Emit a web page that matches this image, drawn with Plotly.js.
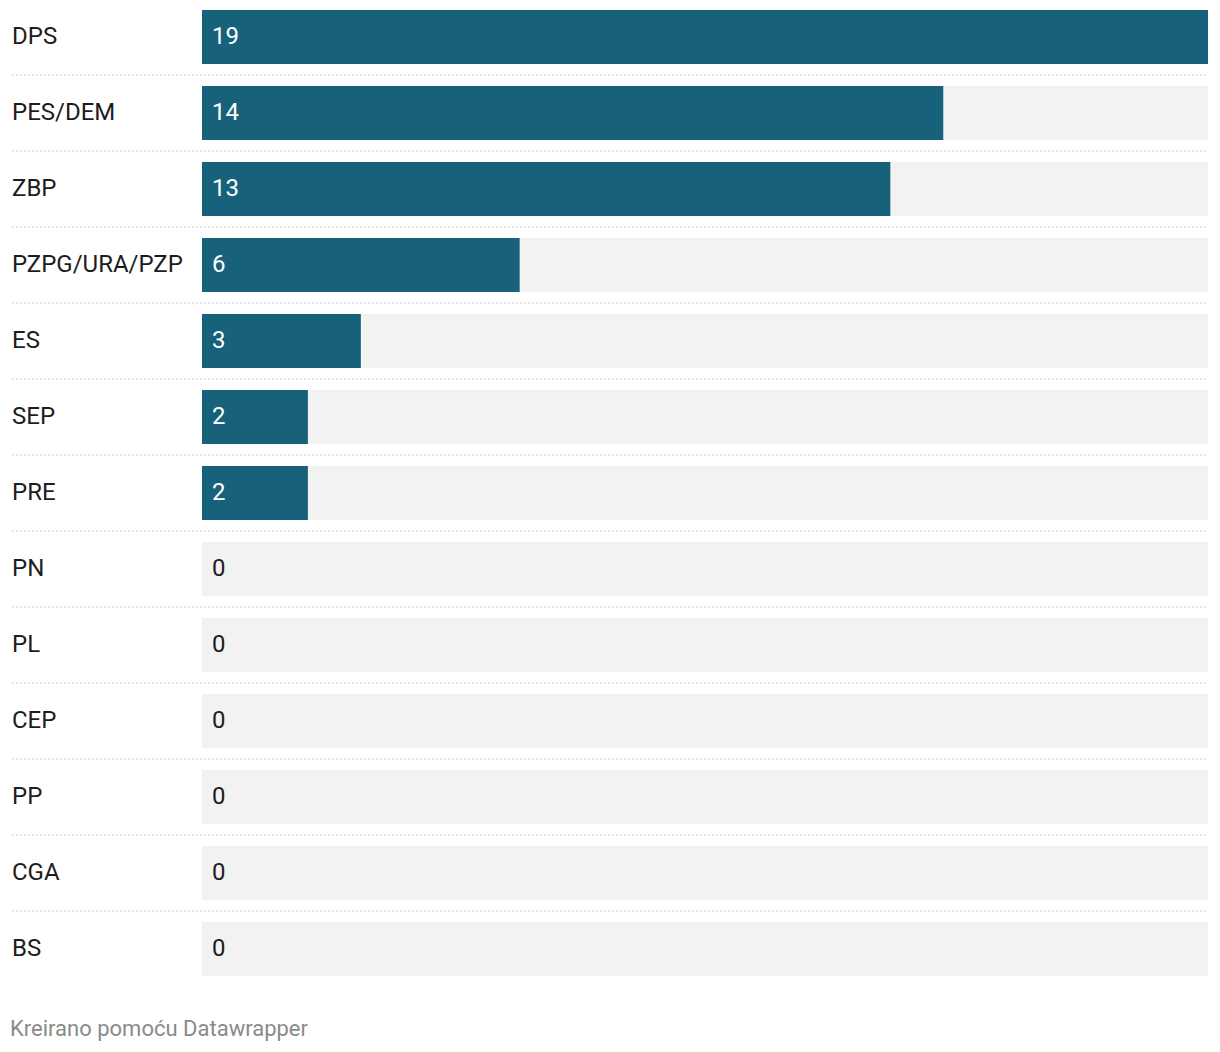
<!DOCTYPE html>
<html>
<head>
<meta charset="utf-8">
<script src="https://cdn.plot.ly/plotly-3.0.1.min.js"></script>
<style>
html,body{margin:0;padding:0;background:#fff;}
#chart{width:1220px;height:1052px;}
</style>
</head>
<body>
<div id="chart"></div>
<script>
const parties = ["DPS","PES/DEM","ZBP","PZPG/URA/PZP","ES","SEP","PRE","PN","PL","CEP","PP","CGA","BS"];
const seats = [19,14,13,6,3,2,2,0,0,0,0,0,0];
const footer = "Kreirano pomoću Datawrapper";

const maxVal = Math.max(...seats);
const W = 1220, H = 1052;
const plotL = 202, plotR = 1208, plotT = 10, plotB = 976;
const n = parties.length;
const half = 27/76;
const font = "Roboto, 'Noto Sans', sans-serif";

const bg = {
  type: "bar", orientation: "h",
  y: parties.map((_, i) => i), x: parties.map(() => maxVal),
  marker: {color: "#f2f2f2"}, width: 54/76, hoverinfo: "skip"
};
const fg = {
  type: "bar", orientation: "h",
  y: parties.map((_, i) => i), x: seats,
  marker: {color: "#17627a"}, width: 54/76, hoverinfo: "skip"
};

const annotations = [];
parties.forEach((p, i) => {
  annotations.push({
    xref: "paper", yref: "y", x: (12 - plotL) / (plotR - plotL), y: i,
    xshift: -2, yshift: 1,
    text: p, showarrow: false, xanchor: "left", yanchor: "middle",
    font: {family: font, size: 24, color: "#1d1d1d"}
  });
  annotations.push({
    xref: "x", yref: "y", x: 0, y: i, xshift: 8, yshift: 1,
    text: String(seats[i]), showarrow: false, xanchor: "left", yanchor: "middle",
    font: {family: font, size: 24, color: seats[i] > 0 ? "#ffffff" : "#1d1d1d"}
  });
});
annotations.push({
  xref: "paper", yref: "paper",
  x: (10 - plotL) / (plotR - plotL), xshift: -2,
  y: (H - 1028 - (H - plotB)) / (plotB - plotT),
  text: footer, showarrow: false, xanchor: "left", yanchor: "middle",
  font: {family: font, size: 22, color: "#8a8a8a"}
});

const shapes = [];
for (let i = 0; i < n - 1; i++) {
  shapes.push({
    type: "line", xref: "paper", yref: "y",
    x0: (12 - plotL) / (plotR - plotL), x1: 1,
    y0: i + 0.5, y1: i + 0.5,
    line: {color: "#cfcfcf", width: 1, dash: "2px,2px"}
  });
}

const layout = {
  width: W, height: H,
  margin: {l: plotL, r: W - plotR, t: plotT, b: H - plotB, pad: 0},
  paper_bgcolor: "#fff", plot_bgcolor: "#fff",
  barmode: "overlay", showlegend: false,
  xaxis: {range: [0, maxVal], showgrid: false, zeroline: false, showticklabels: false, ticks: "", fixedrange: true},
  yaxis: {range: [n - 1 + half, -half], showgrid: false, zeroline: false, showticklabels: false, ticks: "", fixedrange: true},
  annotations: annotations, shapes: shapes
};

Plotly.newPlot("chart", [bg, fg], layout, {displayModeBar: false, staticPlot: true});
</script>
</body>
</html>
